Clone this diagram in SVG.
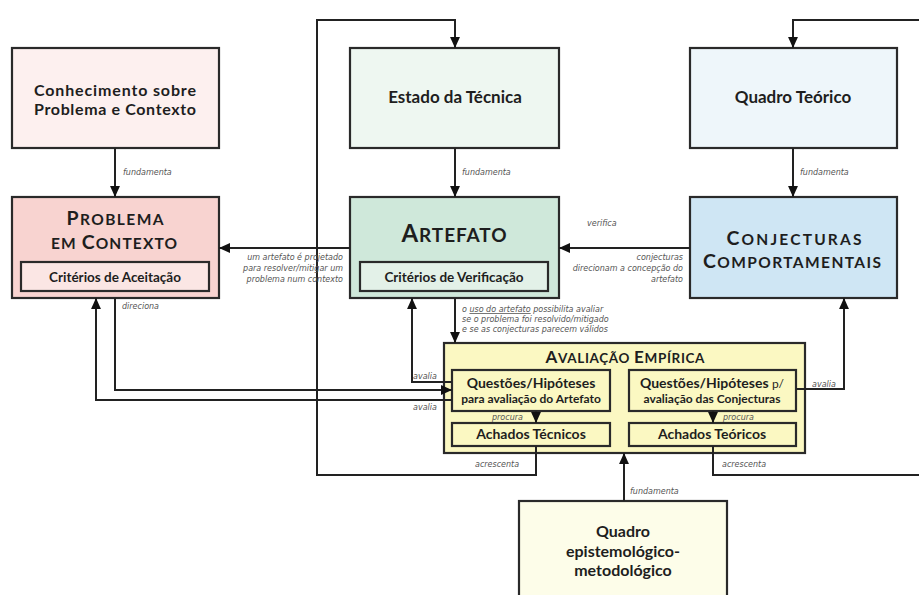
<svg xmlns="http://www.w3.org/2000/svg" width="919" height="595" viewBox="0 0 919 595">
<style>
.box{stroke:#2a2a2a;stroke-width:2.2}
.t{font-family:Lato,"Open Sans","Liberation Sans",sans-serif;font-weight:700;fill:#1e1e1e;text-anchor:middle}
.lb{font-family:"DejaVu Sans","Liberation Sans",sans-serif;font-style:italic;font-size:8px;fill:#555}
.conn path{fill:none;stroke:#222;stroke-width:2}
</style>
<defs>
<marker id="ah" viewBox="0 0 10 10" refX="10" refY="5" markerWidth="11" markerHeight="11" markerUnits="userSpaceOnUse" orient="auto"><path d="M0,0.5 L10,5 L0,9.5 z" fill="#111"/></marker>
</defs>
<rect width="919" height="595" fill="#ffffff"/>

<g id="conhecimento">
<rect class="box" x="12" y="48" width="207" height="100" fill="#fdf0ef"/>
<text class="t" x="115" y="96" font-size="16" textLength="162" lengthAdjust="spacing">Conhecimento sobre</text>
<text class="t" x="115" y="115" font-size="16" textLength="162" lengthAdjust="spacing">Problema e Contexto</text>
</g>

<g id="estado">
<rect class="box" x="350" y="48" width="209" height="100" fill="#eef7f1"/>
<text class="t" x="455" y="103" font-size="17">Estado da Técnica</text>
</g>

<g id="quadro-teorico">
<rect class="box" x="690" y="48" width="207" height="100" fill="#eef6fa"/>
<text class="t" x="793" y="103" font-size="17">Quadro Teórico</text>
</g>

<g id="problema">
<rect class="box" x="12" y="197" width="207" height="101" fill="#f8d3d0"/>
<text class="t" x="115" y="225" textLength="97" lengthAdjust="spacing"><tspan font-size="19.5">P</tspan><tspan font-size="15.5">ROBLEMA</tspan></text>
<text class="t" x="114" y="249" textLength="126" lengthAdjust="spacing"><tspan font-size="15.5">EM </tspan><tspan font-size="19.5">C</tspan><tspan font-size="15.5">ONTEXTO</tspan></text>
</g>
<g id="criterios-aceitacao">
<rect class="box" x="21" y="262" width="188" height="29" fill="#fbe6e4"/>
<text class="t" x="115" y="282" font-size="13.5">Critérios de Aceitação</text>
</g>

<g id="artefato">
<rect class="box" x="350" y="197" width="209" height="101" fill="#cfe8da"/>
<text class="t" x="454" y="242" textLength="105" lengthAdjust="spacing"><tspan font-size="24">A</tspan><tspan font-size="19">RTEFATO</tspan></text>
</g>
<g id="criterios-verificacao">
<rect class="box" x="360" y="262" width="188" height="29" fill="#e3f1e8"/>
<text class="t" x="454" y="282" font-size="13.5">Critérios de Verificação</text>
</g>

<g id="conjecturas">
<rect class="box" x="690" y="197" width="207" height="101" fill="#cfe6f4"/>
<text class="t" x="794" y="245" textLength="135" lengthAdjust="spacing"><tspan font-size="19.5">C</tspan><tspan font-size="15.5">ONJECTURAS</tspan></text>
<text class="t" x="792" y="268" textLength="178" lengthAdjust="spacing"><tspan font-size="19.5">C</tspan><tspan font-size="15.5">OMPORTAMENTAIS</tspan></text>
</g>

<g id="avaliacao">
<rect class="box" x="444" y="343" width="361" height="110" fill="#fbf8c2"/>
<text class="t" x="625" y="363" textLength="159" lengthAdjust="spacing"><tspan font-size="17">A</tspan><tspan font-size="13.5">VALIAÇÃO </tspan><tspan font-size="17">E</tspan><tspan font-size="13.5">MPÍRICA</tspan></text>
</g>
<g id="questoes-artefato">
<rect class="box" x="452" y="370" width="158" height="41" fill="#fbf8c2"/>
<text class="t" x="531" y="388" font-size="14">Questões/Hipóteses</text>
<text class="t" x="531" y="403" font-size="12">para avaliação do Artefato</text>
</g>
<g id="questoes-conjecturas">
<rect class="box" x="629" y="370" width="167" height="41" fill="#fbf8c2"/>
<text class="t" x="712" y="388" font-size="14">Questões/Hipóteses <tspan font-size="12" font-weight="400">p/</tspan></text>
<text class="t" x="712" y="403" font-size="12">avaliação das Conjecturas</text>
</g>
<g id="achados-tecnicos">
<rect class="box" x="452" y="423" width="158" height="23" fill="#fbf8c2"/>
<text class="t" x="531" y="439" font-size="14">Achados Técnicos</text>
</g>
<g id="achados-teoricos">
<rect class="box" x="629" y="423" width="167" height="23" fill="#fbf8c2"/>
<text class="t" x="712" y="439" font-size="14">Achados Teóricos</text>
</g>

<g id="quadro-epistemologico">
<rect class="box" x="519" y="501" width="208" height="110" fill="#fdfde9"/>
<text class="t" x="623" y="537" font-size="16">Quadro</text>
<text class="t" x="623" y="556.5" font-size="16">epistemológico-</text>
<text class="t" x="623" y="576" font-size="16">metodológico</text>
</g>

<g class="conn" id="connectors">
<path d="M115,148 V197" marker-end="url(#ah)"/>
<path d="M455,148 V197" marker-end="url(#ah)"/>
<path d="M793,148 V197" marker-end="url(#ah)"/>
<path d="M350,248 H219" marker-end="url(#ah)"/>
<path d="M690,248 H559" marker-end="url(#ah)"/>
<path d="M455,298 V343" marker-end="url(#ah)"/>
<path d="M452,382 H412 V298" marker-end="url(#ah)"/>
<path d="M115,298 V390 H452" marker-end="url(#ah)"/>
<path d="M452,400 H96 V298" marker-end="url(#ah)"/>
<path d="M796,389 H844 V298" marker-end="url(#ah)"/>
<path d="M536,411 V423" marker-end="url(#ah)"/>
<path d="M713,411 V423" marker-end="url(#ah)"/>
<path d="M536,446 V475 H317 V20 H455 V48" marker-end="url(#ah)"/>
<path d="M713,446 V475 H930 V20 H793 V48" marker-end="url(#ah)"/>
<path d="M624,501 V453" marker-end="url(#ah)"/>
</g>

<g id="labels">
<text class="lb" x="123" y="175">fundamenta</text>
<text class="lb" x="462" y="175">fundamenta</text>
<text class="lb" x="800" y="175">fundamenta</text>
<text class="lb" x="122" y="309">direciona</text>
<text class="lb" x="343" y="260" text-anchor="end">um artefato é projetado</text>
<text class="lb" x="343" y="271" text-anchor="end">para resolver/mitigar um</text>
<text class="lb" x="343" y="282" text-anchor="end">problema num contexto</text>
<text class="lb" x="587" y="226">verifica</text>
<text class="lb" x="683" y="260" text-anchor="end">conjecturas</text>
<text class="lb" x="683" y="271" text-anchor="end">direcionam a concepção do</text>
<text class="lb" x="683" y="282" text-anchor="end">artefato</text>
<text class="lb" x="462" y="312">o <tspan text-decoration="underline">uso do artefato</tspan>  possibilita avaliar</text>
<text class="lb" x="462" y="322">se o problema foi resolvido/mitigado</text>
<text class="lb" x="462" y="332">e se as conjecturas parecem válidos</text>
<text class="lb" x="413" y="379">avalia</text>
<text class="lb" x="413" y="410">avalia</text>
<text class="lb" x="812" y="387">avalia</text>
<text class="lb" x="492" y="420">procura</text>
<text class="lb" x="723" y="420">procura</text>
<text class="lb" x="475" y="467">acrescenta</text>
<text class="lb" x="722" y="467">acrescenta</text>
<text class="lb" x="630" y="494">fundamenta</text>
</g>
</svg>
